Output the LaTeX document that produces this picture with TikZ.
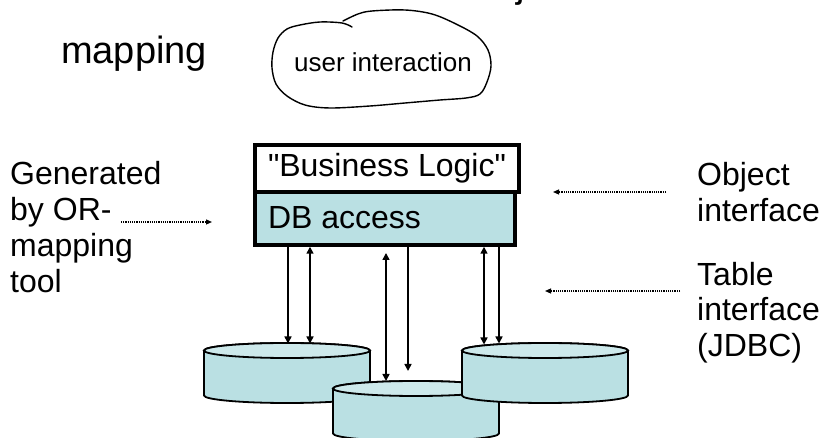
\documentclass[tikz,border=0pt]{standalone}
\usepackage{fontspec}
\setmainfont{Liberation Sans}[Ligatures=TeXOff]
\usetikzlibrary{arrows.meta,calc}
\definecolor{dbfill}{RGB}{186,224,227}
\definecolor{dbtop}{RGB}{205,233,235}

% database disk drawn over an invisible rectangle node (#1)
\newcommand{\drawdisk}[1]{%
  \filldraw[disk] ([yshift=-7.5pt]#1.north west) -- ([yshift=7.5pt]#1.south west)
    arc[start angle=180,end angle=360,x radius=83pt,y radius=7.5pt]
    -- ([yshift=-7.5pt]#1.north east)
    arc[start angle=0,end angle=180,x radius=83pt,y radius=7.5pt] -- cycle;
  \filldraw[disk,fill=dbtop] ([yshift=-7.5pt]#1.north) ellipse[x radius=83pt,y radius=7.5pt];
}

\begin{document}
\begin{tikzpicture}[x=1pt,y=1pt,
  heading/.style={font=\fontsize{38}{42}\selectfont,inner sep=0pt},
  lbl/.style={font=\fontsize{32}{36}\selectfont,inner sep=0pt,align=left},
  layer/.style={draw=black,line width=3.5pt,inner xsep=13pt,inner ysep=0pt,
    font=\fontsize{32}{36}\selectfont,text height=24pt},
  diskbox/.style={inner sep=0pt,outer sep=0pt,minimum width=166pt,minimum height=60pt},
  disk/.style={draw=black,line width=1.8pt,fill=dbfill},
  arrdn/.style={line width=1.6pt,-{Triangle[length=7pt,width=7pt]}},
  arrboth/.style={line width=1.6pt,{Triangle[length=7pt,width=7pt]}-{Triangle[length=7pt,width=7pt]}},
  ptr/.style={line width=1.2pt,densely dotted,-{Triangle[length=6pt,width=5pt]}},
  cloudline/.style={draw=black,line width=1.4pt,line cap=round,line join=round}]
\useasboundingbox (0,0) rectangle (825,-438);
\fill[white] (0,0) rectangle (825,-438);

% heading (its first line lies above the page)
\node[heading,anchor=base west] (ttlj) at (516,2) {j};
\node[heading,anchor=base west] (ttl) at (61,-64) {mapping};

% user interaction cloud
\draw[cloudline] plot[smooth,tension=0.55] coordinates {
  (352,-27) (342,-23) (320,-22) (300,-25) (287,-29) (278,-38) (273,-52)
  (272,-68) (276,-84) (287,-96) (305,-105) (330,-108) (370,-106) (405,-103)
  (440,-100) (466,-98) (480,-94) (487,-82) (491,-66) (488,-50) (477,-36)
  (456,-24) (432,-14) (405,-10) (372,-11) (358,-14) (343,-21)};
\node[font=\fontsize{26}{30}\selectfont,inner sep=0pt,anchor=base] (ui) at (383,-72) {user interaction};

% application layers
\node[layer,fill=white,minimum width=264pt,minimum height=47pt,text depth=7pt]
  (bl) at (387,-168.5) {\makebox[238pt][l]{"Business Logic"}};
\node[layer,fill=dbfill,minimum width=260pt,minimum height=53pt,text depth=3pt]
  (db) at (385,-218.5) {\makebox[234pt][l]{DB access}};

% databases
\node[diskbox] (dL) at (287,-373) {};
\node[diskbox] (dM) at (416,-411) {};
\node[diskbox] (dR) at (545,-373) {};
\drawdisk{dL}
\drawdisk{dM}
\drawdisk{dR}

% table access links
\coordinate (pL1) at (288,-343.5);
\coordinate (pL2) at (310,-343.5);
\coordinate (qM1) at (386,-253);
\coordinate (pM1) at (386,-381);
\coordinate (pM2) at (408,-371);
\coordinate (pR1) at (484,-344.5);
\coordinate (pR2) at (499,-343.5);
\draw[arrdn] (db.south -| pL1) -- (pL1);
\draw[arrboth] (db.south -| pL2) -- (pL2);
\draw[arrboth] (qM1) -- (pM1);
\draw[arrdn] (db.south -| pM2) -- (pM2);
\draw[arrboth] (db.south -| pR1) -- (pR1);
\draw[arrdn] (db.south -| pR2) -- (pR2);

% side labels (base anchor sits on the last line)
\node[lbl,anchor=base west] (gen) at (10,-293) {Generated\\by OR-\\mapping\\tool};
\node[lbl,anchor=base west] (obj) at (697,-222) {Object\\interface};
\node[lbl,anchor=base west] (tbl) at (697,-357) {Table\\interface\\(JDBC)};

% pointers from the labels
\coordinate (g0) at (121,-222);
\coordinate (g1) at (212,-222);
\coordinate (o0) at (666,-192);
\coordinate (o1) at (553,-192);
\coordinate (t0) at (680,-291);
\coordinate (t1) at (545,-291);
\draw[ptr] (g0) -- (g1);
\draw[ptr] (o0) -- (o1);
\draw[ptr] (t0) -- (t1);
\end{tikzpicture}
\end{document}
